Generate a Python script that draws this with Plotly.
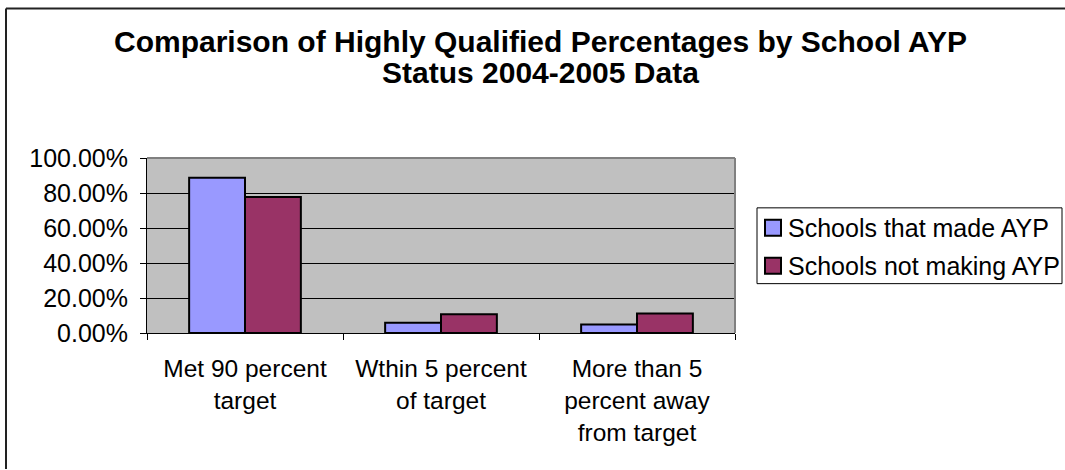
import plotly.graph_objects as go

categories = ["Met 90 percent<br>target", "Wthin 5 percent<br>of target", "More than 5<br>percent away<br>from target"]
made_ayp = [0.887, 0.058, 0.048]
not_making_ayp = [0.777, 0.107, 0.111]
series_names = ["Schools that made AYP", "Schools not making AYP"]
series_colors = ["#9999FF", "#993366"]
title_lines = ["Comparison of Highly Qualified Percentages by School AYP", "Status 2004-2005 Data"]
y_ticks = [0, 0.2, 0.4, 0.6, 0.8, 1.0]

W, H = 1065, 470
L, R, T, B = 147, 330, 158, 136.5
pw, ph = W - L - R, H - T - B

def px_x(x):
    return (x - L) / pw

def px_y(y):
    return (H - B - y) / ph

FONT = "Liberation Sans, Arial, sans-serif"

fig = go.Figure()
for name, vals, col in zip(series_names, [made_ayp, not_making_ayp], series_colors):
    fig.add_trace(go.Bar(x=categories, y=vals, name=name, showlegend=False,
                         hoverinfo="skip",
                         marker=dict(color=col, line=dict(color="black", width=2))))

fig.update_layout(
    width=W, height=H,
    margin=dict(l=L, r=R, t=T, b=B, autoexpand=False),
    paper_bgcolor="white", plot_bgcolor="#C0C0C0",
    barmode="group", bargap=0.43, bargroupgap=0,
    font=dict(family=FONT, size=25, color="black"),
    showlegend=False,
)
fig.update_xaxes(showline=True, linecolor="black", linewidth=1, ticks="outside",
                 ticklen=6, tickcolor="black", tickson="boundaries", showgrid=False,
                 ticklabelstandoff=14, tickfont=dict(size=24.5))
fig.update_yaxes(range=[0, 1], tickvals=y_ticks, tickformat=".2%", showline=True,
                 linecolor="black", linewidth=1, ticks="outside", ticklen=6,
                 tickcolor="black", showgrid=True, gridcolor="black", gridwidth=1,
                 zeroline=False, ticklabelstandoff=7)

# plot area border (top and right)
fig.add_shape(type="line", xref="paper", yref="paper", x0=0, x1=1, y0=1, y1=1,
              line=dict(color="#808080", width=2), layer="above")
fig.add_shape(type="line", xref="paper", yref="paper", x0=1, x1=1, y0=0, y1=1,
              line=dict(color="#808080", width=2), layer="above")
# chart outer border (top and left visible)
fig.add_shape(type="line", xref="paper", yref="paper", x0=px_x(6), x1=px_x(1065),
              y0=px_y(8), y1=px_y(8), line=dict(color="#222222", width=2), layer="above")
fig.add_shape(type="line", xref="paper", yref="paper", x0=px_x(6), x1=px_x(6),
              y0=px_y(8), y1=px_y(470), line=dict(color="#222222", width=2), layer="above")

# title
for line, yc in zip(title_lines, [41, 72]):
    fig.add_annotation(text="<b>%s</b>" % line, xref="paper", yref="paper",
                       x=px_x(540), y=px_y(yc), showarrow=False, font=dict(size=30),
                       xanchor="center", yanchor="middle")

# legend
fig.add_shape(type="rect", xref="paper", yref="paper", x0=px_x(757), x1=px_x(1062),
              y0=px_y(284), y1=px_y(208), line=dict(color="black", width=1),
              fillcolor="white", layer="above")
for name, col, yc in zip(series_names, series_colors, [228, 266]):
    fig.add_shape(type="rect", xref="paper", yref="paper", x0=px_x(765), x1=px_x(781),
                  y0=px_y(yc + 8), y1=px_y(yc - 8), line=dict(color="black", width=2),
                  fillcolor=col, layer="above")
    fig.add_annotation(text=name, xref="paper", yref="paper", x=px_x(786), y=px_y(yc),
                       showarrow=False, xanchor="left", yanchor="middle",
                       font=dict(size=25))

fig.write_html("out.html", config={"displayModeBar": False},
               post_script="document.body.style.margin='0';")
